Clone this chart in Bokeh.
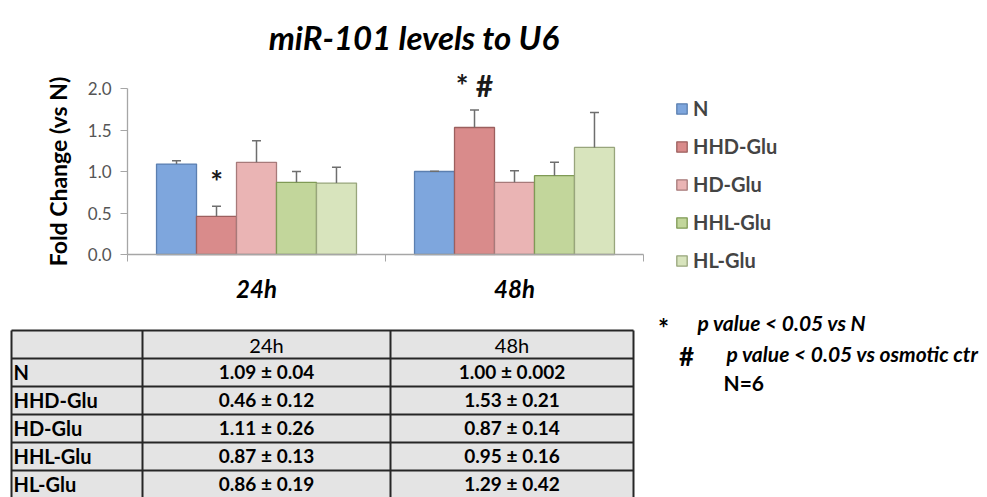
from bokeh.plotting import figure
from bokeh.models import (Range1d, FixedTicker, PrintfTickFormatter, ColumnDataSource,
                          Whisker, TeeHead, Legend, LegendItem)
from bokeh.embed import file_html
from bokeh.resources import INLINE
from bokeh.core.properties import value

# ---------------- data ----------------
title_text = "miR-101 levels  to U6"
y_axis_title = "Fold Change (vs N)"
time_points = ["24h", "48h"]
groups = ["N", "HHD-Glu", "HD-Glu", "HHL-Glu", "HL-Glu"]
mean_24h = [1.09, 0.46, 1.11, 0.87, 0.86]
sem_24h = [0.04, 0.12, 0.26, 0.13, 0.19]
mean_48h = [1.00, 1.53, 0.87, 0.95, 1.29]
sem_48h = [0.002, 0.21, 0.14, 0.16, 0.42]
y_ticks = [0.0, 0.5, 1.0, 1.5, 2.0]
sig_marks = [("24h", "HHD-Glu", "*"), ("48h", "HHD-Glu", "* #")]
notes = [("*", "p value < 0.05 vs N"), ("#", "p value < 0.05 vs osmotic ctr")]
n_text = "N=6"

# ---------------- style / layout ----------------
FONT = "Lato"
W, H = 987, 497
fill_colors = ["#7ea6dd", "#d98b8b", "#eab4b4", "#c2d69b", "#d8e4bd"]
line_colors = ["#5b7fb0", "#9c5f5e", "#a77a7a", "#7f9a55", "#98a57c"]
axis_color = "#a6a6a6"
bar_w = 0.155
sig_gap = 0.30
# chart placement on the canvas (pixels)
X0_PX, PX_PER_CAT = 127, 258
Y0_PX, PX_PER_UNIT = 254, 83

means = {"24h": mean_24h, "48h": mean_48h}
sems = {"24h": sem_24h, "48h": sem_48h}

p = figure(width=W, height=H,
           x_range=Range1d(-X0_PX / PX_PER_CAT, (W - X0_PX) / PX_PER_CAT),
           y_range=Range1d((Y0_PX - H) / PX_PER_UNIT, Y0_PX / PX_PER_UNIT),
           output_backend="svg", toolbar_location=None, min_border=0,
           outline_line_color=None)
p.extra_x_ranges = {"px": Range1d(0, W)}
p.extra_y_ranges = {"px": Range1d(H, 0)}
p.grid.visible = False

# ---------------- bars ----------------
renderers = []
for gi, g in enumerate(groups):
    xs = [ti + 0.5 + (gi - 2) * bar_w for ti in range(len(time_points))]
    tops = [means[t][gi] for t in time_points]
    errs = [sems[t][gi] for t in time_points]
    src = ColumnDataSource(dict(x=xs, top=tops, upper=[a + b for a, b in zip(tops, errs)]))
    r = p.vbar(x="x", top="top", width=bar_w, source=src,
               fill_color=fill_colors[gi], line_color=line_colors[gi], line_width=1.3)
    renderers.append(r)
    w = Whisker(base="x", upper="upper", lower="top", source=src,
                upper_head=TeeHead(size=9, line_color="#6e6e6e", line_width=1.5),
                lower_head=None, line_color="#6e6e6e", line_width=1.5, level="overlay")
    p.add_layout(w)

sx, sy, st = [], [], []
for t, g, s in sig_marks:
    ti, gi = time_points.index(t), groups.index(g)
    sx.append(ti + 0.5 + (gi - 2) * bar_w)
    sy.append(means[t][gi] + sems[t][gi] + sig_gap)
    st.append(s)
p.text(x=sx, y=sy, text=st, text_align="center", text_baseline="middle",
       text_font=value(FONT), text_font_size="30px", text_font_style="bold", text_color="#1a1a1a")

# ---------------- axes ----------------
xa = p.xaxis[0]
xa.fixed_location = 0
xa.bounds = (0, len(time_points))
xa.ticker = FixedTicker(ticks=[i + 0.5 for i in range(len(time_points))],
                        minor_ticks=list(range(len(time_points) + 1)))
xa.major_label_overrides = {i + 0.5: t for i, t in enumerate(time_points)}
xa.major_tick_out = 0
xa.major_tick_in = 0
xa.minor_tick_out = 7
xa.minor_tick_in = 0
xa.minor_tick_line_color = axis_color
xa.axis_line_color = axis_color
xa.axis_line_width = 1.3
xa.major_label_standoff = 12
xa.major_label_text_font = FONT
xa.major_label_text_font_size = "24px"
xa.major_label_text_font_style = "bold italic"
xa.major_label_text_color = "#000000"

ya = p.yaxis[0]
ya.fixed_location = 0
ya.ticker = FixedTicker(ticks=y_ticks, minor_ticks=[])
ya.formatter = PrintfTickFormatter(format="%.1f")
ya.bounds = (y_ticks[0], y_ticks[-1])
ya.axis_line_color = axis_color
ya.axis_line_width = 1.3
ya.major_tick_line_color = axis_color
ya.major_tick_out = 7
ya.major_tick_in = 0
ya.major_label_standoff = 9
ya.major_label_text_font = FONT
ya.major_label_text_font_size = "17px"
ya.major_label_text_color = "#555555"
ya.axis_label = y_axis_title
ya.axis_label_text_font = FONT
ya.axis_label_text_font_size = "23px"
ya.axis_label_text_font_style = "bold"
ya.axis_label_text_color = "#000000"
ya.axis_label_standoff = 13

# ---------------- legend ----------------
legend = Legend(items=[LegendItem(label=g, renderers=[r]) for g, r in zip(groups, renderers)],
                location=(675, H - 272), orientation="vertical", padding=0, margin=0, spacing=14,
                glyph_width=13, glyph_height=13, label_height=24, label_standoff=5,
                label_text_font=FONT, label_text_font_style="bold", label_text_font_size="20px",
                background_fill_alpha=0, border_line_alpha=0)
p.add_layout(legend)

# ---------------- title ----------------
p.text(x=[417], y=[36], text=[title_text], x_range_name="px", y_range_name="px",
       text_align="center", text_baseline="middle", text_font=value(FONT),
       text_font_size="33px", text_font_style="bold italic", text_color="#000000")

# ---------------- table ----------------
col_edges = [11, 142, 390, 633]
row_top = 330
row_h = 28.0
n_rows = len(groups) + 1
tbl_bottom = row_top + n_rows * row_h
PX = dict(x_range_name="px", y_range_name="px")

p.quad(left=[col_edges[0]], right=[col_edges[-1]], top=[row_top], bottom=[tbl_bottom],
       fill_color="#e4e4e4", line_color=None, **PX)
hy = [row_top + k * row_h for k in range(n_rows + 1)]
p.segment(x0=[col_edges[0]] * len(hy), y0=hy, x1=[col_edges[-1]] * len(hy), y1=hy,
          line_color="#262626", line_width=2, **PX)
p.segment(x0=col_edges, y0=[row_top] * len(col_edges), x1=col_edges,
          y1=[tbl_bottom] * len(col_edges), line_color="#262626", line_width=2, **PX)

col_centers = [(col_edges[i] + col_edges[i + 1]) / 2 for i in range(1, len(col_edges) - 1)]
p.text(x=col_centers, y=[row_top + row_h / 2] * len(time_points), text=time_points,
       text_align="center", text_baseline="middle", text_font=value(FONT),
       text_font_size="20px", text_color="#000000", **PX)
p.text(x=[col_edges[0] + 2] * len(groups), y=[row_top + (k + 1.5) * row_h - 1 for k in range(len(groups))],
       text=groups, text_align="left", text_baseline="middle", text_font=value(FONT),
       text_font_size="20px", text_font_style="bold", text_color="#000000", **PX)
vx, vy, vt = [], [], []
for ci, tp in enumerate(time_points):
    for k in range(len(groups)):
        vx.append(col_centers[ci])
        vy.append(row_top + (k + 1.5) * row_h - 1)
        vt.append(f"{means[tp][k]:.2f} \u00b1 {sems[tp][k]:g}")
p.text(x=vx, y=vy, text=vt, text_align="center", text_baseline="middle", text_font=value(FONT),
       text_font_size="19px", text_font_style="bold", text_color="#000000", **PX)

# ---------------- notes ----------------
p.text(x=[663, 686], y=[327, 355], text=[n[0] for n in notes], text_align="center",
       text_baseline="middle", text_font=value(FONT), text_font_size="26px",
       text_font_style="bold", text_color="#000000", **PX)
p.text(x=[697, 726], y=[322, 353], text=[n[1] for n in notes], text_align="left",
       text_baseline="middle", text_font=value(FONT), text_font_size="21px",
       text_font_style="bold italic", text_color="#000000", **PX)
p.text(x=[723], y=[382], text=[n_text], text_align="left", text_baseline="middle",
       text_font=value(FONT), text_font_size="21px", text_font_style="bold",
       text_color="#000000", **PX)

open("out.html", "w").write(file_html(p, INLINE))
